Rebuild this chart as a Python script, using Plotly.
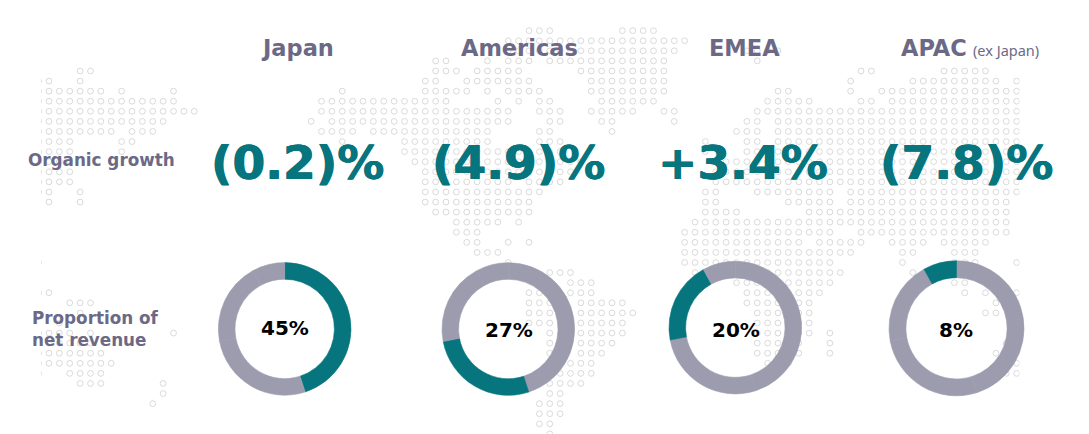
import plotly.graph_objects as go

W = 1089
H = 434

regions = ["Japan", "Americas", "EMEA", "APAC"]
growth_labels = ["(0.2)%", "(4.9)%", "+3.4%", "(7.8)%"]
revenue_share = [45, 27, 20, 8]
share_labels = ["45%", "27%", "20%", "8%"]
row_titles = ["Organic growth", "Proportion of<br>net revenue"]

TEAL = "#07757e"
GREY = "#9c9cae"
SLATE = "#6b6986"
DOT = "#dadada"

# dotted world map, row number -> runs of grid columns
map_main = {
    0: "20-22 29-32",
    1: "18-35",
    2: "18-34 41-44",
    3: "11-12 16 18-20 22-33 42",
    4: "11-13 15-19 25-33 52-53 60-64",
    5: "10-11 14-20 26-33 51 57-65 67",
    6: "2 10-14 16 18-21 26-33 44-45 51 54-67",
    7: "0-12 17 19 21-22 27-32 43-47 52-53 55-67",
    8: "0-18 21-23 26-30 33-34 42-67",
    9: "-1 1-18 22-23 27-28 34 41-42 44-67",
    10: "0-3 5-16 21-22 28 40-42 44-67",
    11: "2 8-16 21-23 37 41-42 44-67",
    12: "8-23 37 41-67",
    13: "9-25 39-67",
    14: "10-24 38-67",
    15: "10-18 20-23 38-67",
    16: "10-21 37-38 42-49 51-67",
    17: "10-20 37-38 45-49 51-66",
    18: "11-20 37-40 47-66",
    19: "13-17 19 36-66",
    20: "13-15 35-49 52-66",
    21: "14-15 18 20 35-46 48-52 55-58 60-64",
    22: "15-17 35-51 56-57 61-63",
    23: "18 35-49 56 61-63 67",
    24: "22-24 36-50 57",
    25: "24-26 40-49 61-62",
    26: "20-22 24-26 41-48 62 64 67",
    27: "20-22 25-29 41-47 65 67",
    28: "20-22 25-30 42-47 64-65",
    29: "20-22 25-29 42-47",
    30: "22 25-29 42-47 49",
    31: "22 25-28 42-46 49 66",
    32: "22-23 25-27 42-46 49 65 67",
    33: "22 24-26 43-45 66-67",
    34: "23-26 66-67",
    35: "22-25",
    36: "22-23",
    37: "21-23",
    38: "21-23",
    39: "21-22",
    40: "22",
}
map_left = {
    4: "3-4",
    5: "-1-0 3",
    6: "-1-5 7 12",
    7: "-1-12",
    8: "-1-14",
    9: "-1-11",
    10: "-1-6 8-10",
    11: "-1-2 7-8",
    12: "-1-2 7",
    13: "-1-2",
    14: "-1-2",
    15: "-1-2",
    16: "-1-0 3",
    17: "0 3",
    23: "-1",
    26: "-1-0",
    27: "2-4",
    28: "3",
    29: "1",
    30: "-1-2 4 12",
    31: "-1-4",
    32: "-1-5",
    33: "-1-6",
    34: "-1 2-5",
    35: "3-5 11",
    36: "11",
    37: "10",
}


def expand(rows):
    cols, row_ids = [], []
    for row, runs in rows.items():
        for run in runs.split():
            neg = run.startswith("-")
            parts = run[1:].split("-") if neg else run.split("-")
            start = -int(parts[0]) if neg else int(parts[0])
            end = int(parts[1]) if len(parts) > 1 else start
            for c in range(start, end + 1):
                cols.append(c)
                row_ids.append(row)
    return cols, row_ids


COL_W = 10.375
ROW_H = 10.08
X0 = 321.5
Y0 = 30.67
LEFT_SHIFT = (49 - X0) / COL_W

main_x, main_y = expand(map_main)
left_x, left_y = expand(map_left)
left_x = [c + LEFT_SHIFT for c in left_x]

fig = go.Figure()
fig.add_trace(go.Scatter(
    x=main_x + left_x, y=main_y + left_y, mode="markers",
    marker=dict(symbol="circle-open", size=5.8, color=DOT, line=dict(width=1, color=DOT)),
    hoverinfo="skip", showlegend=False, cliponaxis=True,
))

# donut centre x, centre y, radius in pixels
donuts = [(284.7, 328.9, 66.3), (508.3, 329.0, 66.3), (735.3, 327.6, 66.3), (956.5, 328.3, 67.5)]
for i, (cx, cy, r) in enumerate(donuts):
    colors = [GREY] * len(revenue_share)
    colors[i] = TEAL
    fig.add_trace(go.Pie(
        values=revenue_share, labels=regions, sort=False, direction="clockwise", rotation=0,
        hole=0.75, textinfo="none", hoverinfo="skip", showlegend=False,
        marker=dict(colors=colors, line=dict(width=0.6, color=colors)),
        domain=dict(x=[(cx - r) / W, (cx + r) / W], y=[1 - (cy + r) / H, 1 - (cy - r) / H]),
    ))


def add_text(text, x, y, size, color, anchor="center", font="DejaVu Sans", weight=700, heavy=0.0):
    # the big figures in the reference are heavier than the bold face here
    shadow = "none"
    if heavy:
        shadow = f"{heavy}px 0 0 {color}, -{heavy}px 0 0 {color}"
    fig.add_annotation(
        text=text, x=x / W, y=1 - y / H, xref="paper", yref="paper", showarrow=False,
        xanchor=anchor, yanchor="middle", align="left",
        font=dict(size=size, color=color, family=font, weight=weight, shadow=shadow),
    )


title_x = [297.5, 519, 744]
growth_x = [297, 518, 743, 966]
share_x = [284.5, 508.5, 736, 956]
share_y = [328, 330, 330, 330]

for name, x in zip(regions[:3], title_x):
    add_text(name, x, 48, 22.5, SLATE)
add_text(regions[3], 899, 48, 22.5, SLATE, anchor="left")
add_text("(ex Japan)", 971, 50, 14.5, SLATE, anchor="left", font="Noto Sans", weight=400)
for label, x in zip(growth_labels, growth_x):
    add_text(label, x, 162, 47, TEAL, heavy=0.5)
for label, x, y in zip(share_labels, share_x, share_y):
    add_text(label, x, y, 20, "#000000")
add_text(row_titles[0], 26, 160, 16.8, SLATE, anchor="left")
add_text(row_titles[1], 30, 329, 16.8, SLATE, anchor="left")

left_px, right_px = 41, 1019.5
fig.update_layout(
    width=W, height=H, margin=dict(l=0, r=0, t=0, b=0),
    paper_bgcolor="white", plot_bgcolor="rgba(0,0,0,0)",
    xaxis=dict(
        domain=[left_px / W, right_px / W], visible=False,
        range=[(left_px - X0) / COL_W, (right_px - X0) / COL_W],
    ),
    yaxis=dict(domain=[0, 1], visible=False, range=[(H - Y0) / ROW_H, -Y0 / ROW_H]),
)

fig.write_html("out.html", post_script="document.body.style.margin='0';", config=dict(displayModeBar=False))
